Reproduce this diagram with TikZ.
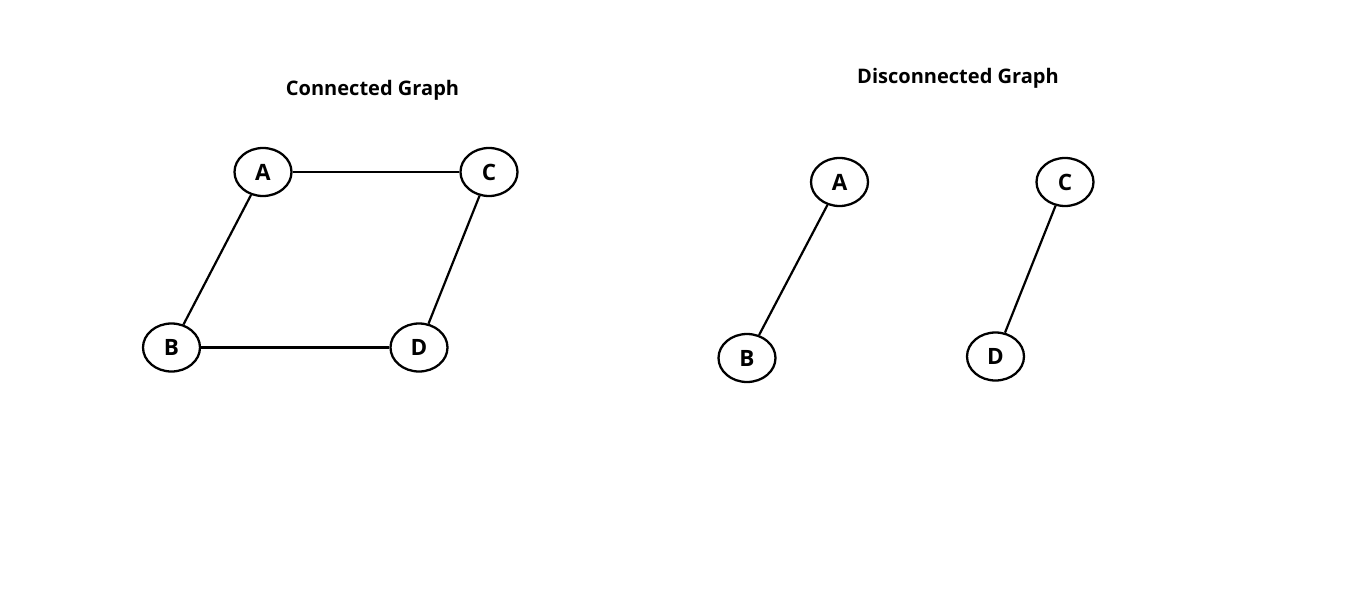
\documentclass[tikz,border=0pt]{standalone}
\usepackage{fontspec}
\setmainfont{Open Sans}
\usepackage{tikz}
\usetikzlibrary{shapes.geometric}

\begin{document}
\begin{tikzpicture}[main/.style = {draw, ellipse, line width=1.3pt, minimum width=1.14cm, minimum height=0.96cm, inner sep=0pt, font=\fontsize{12.8}{15}\bfseries},
    title/.style = {anchor=base, font=\fontsize{11.4}{14}\bfseries}, line width=1.25pt]
    \useasboundingbox (0,0) rectangle (27.2,12.26);

    % connected graph
    \node[title] (t1) at (7.45,10.34) {Connected Graph};
    \node[main] (A1) at (5.26,8.82) {A};
    \node[main] (C1) [right of=A1, xshift=3.52cm] {C};
    \node[main] (B1) [below of=A1, xshift=-1.83cm, yshift=-2.51cm] {B};
    \node[main] (D1) [right of=B1, xshift=3.95cm] {D};

    \draw (A1) -- (C1);
    \draw (A1) -- (B1);
    \draw (C1) -- (D1);
    \draw (B1) -- (D1);

    % disconnected graph
    \node[title] (t2) at (19.16,10.58) {Disconnected Graph};
    \node[main] (A2) [right of=C1, xshift=6.01cm, yshift=-0.2cm] {A};
    \node[main] (C2) [right of=A2, xshift=3.51cm] {C};
    \node[main] (B2) [below of=A2, xshift=-1.85cm, yshift=-2.52cm] {B};
    \node[main] (D2) [below of=C2, xshift=-1.39cm, yshift=-2.49cm] {D};

    \draw (A2) -- (B2);
    \draw (C2) -- (D2);

\end{tikzpicture}
\end{document}
